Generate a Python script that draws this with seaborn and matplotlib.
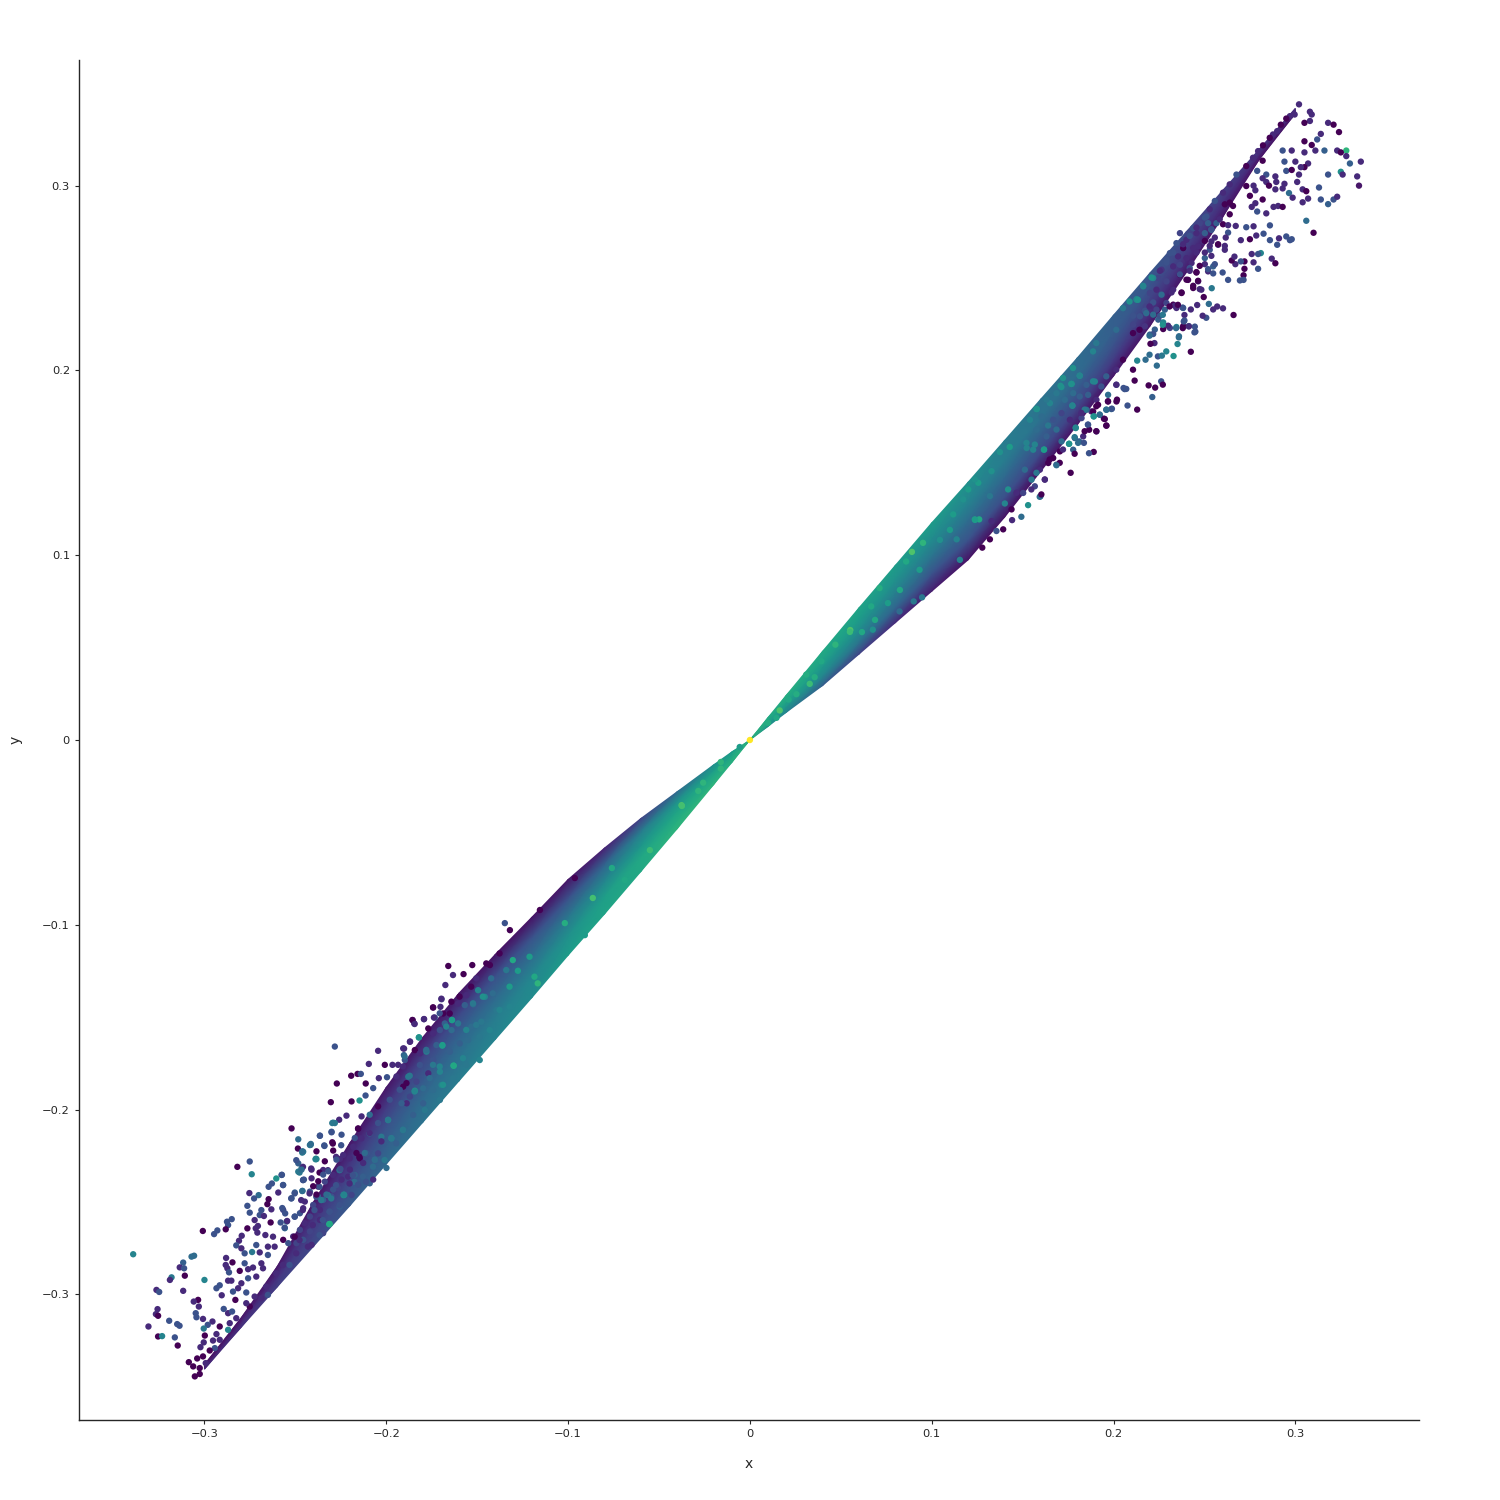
import numpy as np
import pandas as pd
import matplotlib.pyplot as plt
import seaborn as sns

# points: (x, y, colour value)
upper_points = [
    (.302,.344,.12),(.308,.340,.12),(.309,.3385,.12),(.318,.334,.12),(.321,.333,0),(.324,.329,0),(.314,.328,.12),(.308,.335,.12),
    (.305,.334,0),(.305,.324,0),(.309,.322,0),(.312,.325,.25),(.328,.319,.65),(.323,.319,.12),(.325,.318,0),(.328,.316,.12),
    (.316,.319,.3),(.311,.319,.12),(.305,.318,.12),(.298,.319,.12),(.293,.319,.25),(.330,.312,.3),(.336,.313,.12),(.325,.3075,.5),
    (.326,.306,.12),(.334,.305,.12),(.335,.300,.06),(.318,.306,.25),(.313,.299,.25),(.307,.312,.12),(.305,.310,0),(.303,.310,.12),
    (.300,.313,.12),(.294,.313,.25),(.295,.308,.25),(.298,.3085,0),(.302,.306,.12),(.301,.302,.12),(.289,.305,.12),(.2895,.302,.12),
    (.279,.308,.25),(.282,.3135,0),(.284,.306,.25),(.282,.304,.12),(.284,.302,.12),(.2855,.300,0),(.294,.301,.12),(.293,.2985,.12),
    (.289,.298,.12),(.2965,.296,.35),(.304,.298,.12),(.306,.297,0),(.2985,.2935,.12),(.307,.293,.12),(.304,.291,.12),(.314,.2925,.25),
    (.318,.290,.3),(.321,.2925,.25),(.323,.294,.12),(.306,.281,.35),(.310,.2745,0),(.286,.2785,.25),(.277,.278,.12),(.273,.2775,.25),
    (.2825,.274,.25),(.2785,.273,.12),(.275,.271,0),(.270,.2705,.12),(.286,.2705,.25),(.291,.2715,.12),(.295,.2725,.25),(.298,.271,.25),
    (.297,.2705,.25),(.290,.268,.25),(.288,.2885,.12),(.2905,.289,.12),(.293,.2885,0),(.284,.285,.12),(.279,.286,.25),(.278,.2905,.12),
    (.276,.2885,.12),(.282,.2925,0),(.278,.2975,.12),(.275,.2945,0),(.273,.2998,0),(.277,.300,.12),(.287,.2605,.12),(.289,.258,0),
    (.281,.2635,.45),(.2795,.263,.25),(.276,.263,.12),(.2795,.255,.25),(.277,.2585,.12),(.272,.259,0),(.270,.259,.25),(.272,.255,0),
    (.2715,.2515,0),(.2715,.249,.25),(.2695,.2487,.25),(.263,.249,.25),(.260,.253,.25),(.267,.2575,.12),(.265,.2595,0),(.2665,.2616,.12),
    (.254,.2445,.4),(.2496,.2397,0),(.2524,.236,.35),(.257,.2346,.12),(.2602,.2336,.12),(.2548,.233,.12),(.266,.230,0),(.251,.2285,.25),
    (.249,.2296,.12),(.246,.2354,.12),(.2425,.233,.12),(.238,.234,.25),(.239,.230,.12),(.239,.227,.25),(.2447,.2237,.25),(.2414,.224,.25),
    (.2383,.224,0),(.2346,.2235,.45),(.245,.221,.25),(.236,.2185,.35),
    (.297,.3376,.12),(.2996,.3385,.12),(.295,.3363,0),(.292,.333,0),(.290,.3295,.12),(.2877,.3277,.12),(.2859,.3259,0),(.2822,.3218,0),
    (.2795,.3187,.12),(.2767,.3151,.12),(.273,.3106,0),(.2676,.306,.25),(.2639,.3007,.12),(.2602,.2962,.12),(.2557,.2917,.25),(.2529,.2872,.12),
    (.2502,.2827,.25),(.2456,.2773,.12),(.2419,.2728,.25),(.2383,.2683,.12),(.2328,.2638,.25),(.2291,.2584,.25),(.2255,.2539,.12),(.2209,.2503,.5),
    (.2163,.2458,.45),(.2127,.2386,.45),
    (.2639,.2908,0),(.2657,.289,0),(.2612,.2899,0),(.2584,.2818,.12),(.2639,.2845,0),(.2602,.2791,0),(.263,.2786,.12),(.2672,.2782,.12),
    (.2538,.2764,.25),(.2557,.2719,.12),(.2502,.2701,0),(.2529,.2674,.12),(.2575,.2683,0),(.2612,.2674,.12),(.263,.2746,.25),(.2617,.2719,.12),
    (.2456,.2638,.12),(.2502,.2638,.12),(.2538,.262,.12),(.2557,.2575,.25),(.2502,.2575,.12),(.2474,.2566,0),(.2520,.2548,.25),(.2456,.253,0),
    (.2419,.2539,.12),(.2548,.2525,.25),(.2465,.2485,0),(.2438,.2458,0),(.2474,.244,.12),(.2410,.249,0),(.2365,.252,.25),(.2374,.2422,0),
    (.2319,.2422,.12),(.2337,.235,.12),(.2273,.226,.45),(.2255,.2296,.25),(.2218,.2368,.25),(.2172,.2323,.25),(.2108,.2296,.25),(.2136,.2215,.12),
    (.2218,.2197,.25),(.2273,.2224,0),(.2300,.2242,.12),
    (.2425,.2101,0),(.2330,.2078,.5),(.2359,.2179,.35),(.2352,.2143,.45),(.2290,.2103,.45),(.2244,.2076,.25),(.2266,.2080,.4),(.2238,.2026,.35),
    (.2198,.2085,.35),(.2176,.2058,.35),(.2130,.2053,.45),(.2445,.2206,.25),(.2386,.2265,.25),(.2344,.2229,.35),(.2381,.2229,0),(.2414,.2238,.12),
    (.2271,.2247,.5),(.2198,.2188,.35),(.2225,.2148,.12),(.2203,.2144,0),(.2262,.1941,.25),(.2271,.1923,0),(.2229,.1907,0),(.2193,.1919,0),
    (.2213,.1856,.3),(.2130,.1788,0),(.2077,.1810,.25),(.2070,.1900,.25),(.2055,.1905,.25),(.2116,.1945,0),(.2015,.1923,.12),(.2019,.1842,0),
    (.1969,.1833,0),(.1991,.1793,.25),(.1960,.1788,.35),(.1947,.1739,0),(.1960,.1702,0),(.1924,.1761,.35),(.1891,.1752,.5),(.1905,.1671,0),
    (.1859,.1707,.25),(.1841,.1671,0),(.1792,.1691,.45),(.1755,.1603,.5),(.1805,.1608,.35),(.1837,.1608,.25),(.1786,.1639,.4),(.1891,.1559,0),
    (.1865,.1552,.25),(.1786,.1549,0),(.1764,.1446,0),(.1704,.1500,0),(.1686,.1487,.35),(.1594,.1316,.35),(.1603,.1329,0),(.1530,.1271,.5),
    (.1493,.1208,.35),(.1442,.1190,.12),(.1356,.1131,.25),(.1393,.1140,0),(.1320,.1086,0),(.1278,.1041,0),(.1622,.1410,.12),(.1548,.1356,.12),
    (.1375,.1558,.5),(.1429,.1586,.55),(.1576,.1792,.5),(.1777,.2013,.5),(.1722,.1959,.5),(.1768,.1927,.5),(.1814,.1972,.45),(.1887,.2103,.45),
    (.1905,.2148,.4),(.1713,.1910,.5),(.1773,.1810,.45),(.1618,.1572,.55),(.1567,.1599,.45),(.1640,.1702,.4),(.1261,.1194,.6),(.1201,.1356,.55),
    (.1256,.1392,.55),(.1237,.1410,.5),(.1329,.1455,.5),(.1420,.1356,.5),(.1402,.1280,.45),(.1118,.1221,.55),(.1137,.1086,.45),(.1237,.1194,.55),
    (.1173,.1302,.5),(.1320,.1320,.4),(.1521,.1608,.45),(.1493,.1671,.4),(.1631,.1842,.4),(.1686,.1680,.35),(.1841,.1788,.4),(.1887,.1941,.45),
    (.2015,.2220,.35),(.2088,.2373,.5),(.2134,.2382,.5),(.2052,.2337,.4),(.2180,.2310,.35),(.2271,.2301,.4),(.2198,.2346,.12),(.2308,.2346,0),
    (.2354,.2355,0),(.2107,.2202,0),(.2143,.2220,0),(.2052,.2058,0),(.2015,.2004,.12),(.2107,.2004,0),(.1960,.1968,.3),(.1905,.1806,0),
    (.1823,.1770,.12),(.1722,.1572,.12),(.1649,.1518,0),(.1576,.1446,.4),(.1466,.1338,.12),(.1439,.1248,0),(.1329,.1185,.12),
    (.0164,.0160,.72),(.0146,.0120,.6),(.0213,.0219,.6),(.0256,.0248,.62),(.0329,.0304,.68),(.0310,.0354,.62),(.0356,.0340,.62),(.0393,.0426,.6),
    (.0470,.0516,.65),(.0552,.0595,.72),(.0616,.0584,.6),(.0676,.0597,.5),(.0713,.0822,.62),(.0667,.0723,.6),(.0759,.0741,.55),(.0933,.0921,.55),
    (.0859,.0966,.6),(.0823,.0696,.35),(.0901,.0750,.4),(.0947,.0772,.4),(.0100,.0093,.62),
    (.0891,.1018,.72),(.0550,.0585,.68),(.0952,.1067,.65),(.0688,.0650,.6),(.0825,.0812,.6),(.1045,.1083,.5),(.1155,.0975,.45),(.1238,.1191,.55),(.1100,.1137,.55),
]

upper_fringe_points = [
    (.2365,.2743,.2),(.2401,.2707,.12),(.2438,.2662,.12),(.2383,.2662,0),(.2346,.2689,.25),(.2310,.2635,.25),(.2355,.2617,.12),(.2401,.2608,.12),
    (.2429,.2581,.12),(.2456,.2532,0),(.2365,.2572,.2),(.2328,.2563,.12),(.2291,.2599,.25),(.2264,.2545,.15),(.2365,.2518,0),(.2401,.2491,0),
    (.2438,.2446,0),(.2465,.2482,.12),(.2483,.2437,.12),(.2374,.2419,0),(.2328,.2437,.12),(.2291,.2482,.2),(.2246,.25,.2),(.2218,.25,.45),
    (.2163,.2455,.45),(.2127,.2383,.5),(.2200,.2419,.2),(.2236,.2437,.12),(.2264,.2410,.35),(.2291,.2365,.2),(.2328,.2356,0),(.2346,.2338,.12),
    (.2383,.2338,.3),(.2282,.2329,.3),(.2273,.2248,.5),(.2236,.2329,.2),(.2218,.2302,.35),(.2182,.2347,.2),(.2145,.2293,.25),(.2108,.2248,.2),
    (.2172,.2239,.15),(.2246,.2275,.3),(.2227,.2221,.3),(.2200,.2194,.3),(.2310,.2230,.2),(.2529,.2653,.25),(.2502,.2608,.3),(.2548,.2563,.3),
    (.2465,.2671,.12),(.2538,.2698,.12),(.2493,.2698,.12),(.2575,.2680,.12),(.2612,.2653,.12),(.2419,.2554,.25),(.2520,.2536,.12),(.2502,.2743,.3),
    (.2538,.2761,.3),(.2456,.2743,.12),(.2474,.2797,.2),(.2520,.2797,.3),(.2566,.2797,.3),(.2511,.2833,.25),(.2438,.2770,.25),
    (.1577,.1791,.55),(.1769,.1927,.55),(.1708,.1917,.5),(.1814,.1971,.5),(.1650,.1823,.45),(.1774,.1809,.5),(.1897,.1940,.45),(.1860,.1868,.3),
    (.1732,.1841,.35),(.1814,.1859,.3),(.1906,.1841,.12),(.1915,.1814,0),(.1878,.1778,.12),(.1851,.1787,.35),(.1891,.1751,.55),(.1924,.1760,.35),
    (.1888,.1778,0),(.1824,.1742,.2),(.1792,.1688,.5),(.1760,.1733,.12),(.1714,.1769,.2),(.1668,.1733,.25),(.1860,.1706,.3),(.1866,.1679,0),
    (.1906,.1670,.12),(.1833,.1643,.12),(.1787,.1634,.3),(.1811,.1616,.3),(.1756,.1603,.5),(.1714,.1616,.35),(.1778,.1571,.3),(.1705,.1562,0),
    (.1668,.1526,0),(.1617,.1571,.55),(.1558,.1571,.45),(.1522,.1580,.45),(.1631,.1643,.3),(.1577,.1679,.35),(.1512,.1670,.4),(.1686,.1490,.25),
    (.1641,.1499,0),(.1595,.1463,.12),(.1549,.1409,.4),(.1512,.1463,.35),(.1622,.1409,.12),(.1567,.1373,.2),(.1598,.1319,.35),(.1503,.1337,.2),
    (.1970,.1832,0),(.2016,.1832,0),(.1961,.1787,.35),(.1988,.1791,.35),(.1952,.1737,0),(.1961,.1701,0),(.1970,.1868,.35),(.1933,.1913,.25),
    (.2016,.1922,.25),(.2061,.1899,.25),(.1851,.1922,.3),(.1778,.1877,.35),(.1686,.1877,.4),(.1604,.1751,.35),(.1540,.1733,.45),
]

lower_points = [
    (-.3392,-.2783,.45),(-.2819,-.231,0),(-.2751,-.2281,.25),(-.274,-.235,.45),(-.2605,-.2373,.5),(-.2574,-.2353,.25),(-.2629,-.24,.25),(-.2647,-.2418,.25),
    (-.2568,-.2409,.25),(-.2594,-.2449,.12),(-.2753,-.2452,.12),(-.2702,-.2463,.35),(-.2727,-.2481,.25),(-.2647,-.2485,0),(-.2654,-.2512,0),(-.2764,-.2521,.25),
    (-.2632,-.2540,.12),(-.2687,-.2544,.25),(-.2751,-.2558,.25),(-.2696,-.2571,.25),(-.2673,-.2576,.12),(-.2572,-.2533,.25),(-.2556,-.2562,.25),(-.2504,-.258,.25),
    (-.285,-.2593,.25),(-.2876,-.2607,.25),(-.2870,-.2625,.25),(-.2724,-.2598,.12),(-.2636,-.2611,0),(-.2706,-.2630,.12),(-.2581,-.2611,.25),(-.2545,-.2603,.12),
    (-.2559,-.2639,.25),(-.3009,-.2657,0),(-.2929,-.2654,.25),(-.2947,-.2674,.25),(-.2883,-.2648,0),(-.2764,-.2643,0),(-.2718,-.2643,.12),(-.2709,-.2666,.12),
    (-.2665,-.2679,.12),(-.2623,-.2688,.12),(-.2795,-.2683,.12),(-.2810,-.2710,.12),(-.2825,-.2735,.25),(-.2651,-.2742,.12),(-.2614,-.2742,.12),(-.2715,-.2733,.25),
    (-.2797,-.2751,.12),(-.2779,-.2778,.25),(-.2738,-.2771,.4),(-.2696,-.2773,.12),(-.2651,-.2787,.25),(-.3057,-.2791,.35),(-.3071,-.2796,.35),(-.3117,-.2828,.3),
    (-.3136,-.2854,.12),(-.3112,-.2859,.25),(-.2881,-.2803,.12),(-.2846,-.2827,0),(-.2883,-.2841,.12),(-.2874,-.2859,.12),(-.2779,-.2832,.25),(-.2733,-.2855,.12),
    (-.2806,-.2873,0),(-.2865,-.2881,.25),(-.2760,-.2864,.12),(-.2687,-.2832,.12),(-.2678,-.2859,.12),(-.3108,-.2899,0),(-.3181,-.2908,.4),(-.3190,-.2922,.12),
    (-.3000,-.2922,.45),(-.2715,-.2904,.12),(-.2760,-.2913,.25),(-.2870,-.2926,.12),(-.2852,-.2926,.12),(-.2916,-.2951,.25),(-.2934,-.2967,.25),(-.2797,-.2940,.12),
    (-.2815,-.2967,.12),(-.2843,-.2985,.25),(-.3264,-.2976,.12),(-.3249,-.2987,.25),(-.3117,-.2981,.12),(-.2905,-.3005,.12),(-.2770,-.2990,.25),(-.3035,-.3030,0),
    (-.3059,-.3039,.12),(-.2830,-.3030,0),(-.3031,-.3066,.12),(-.2894,-.3079,.25),(-.3258,-.3080,.12),(-.3267,-.3107,.12),(-.3255,-.3116,0),(-.3048,-.3102,.25),
    (-.3044,-.3124,.25),(-.2870,-.3102,.12),(-.2848,-.3093,.25),(-.3194,-.3143,.25),(-.3150,-.3161,.25),(-.3137,-.3170,.25),(-.3308,-.3174,.12),(-.3008,-.3133,.12),
    (-.2956,-.3147,.12),(-.2982,-.3165,.25),(-.3004,-.3185,.4),(-.3255,-.3228,0),(-.3233,-.3226,.45),(-.3163,-.3233,.25),(-.3147,-.3277,0),(-.2998,-.3223,0),
    (-.2870,-.3192,.45),(-.2916,-.3174,0),(-.2861,-.3156,.12),(-.2825,-.3129,.12),(-.2934,-.3215,.12),(-.2953,-.3250,.12),(-.3004,-.3260,.12),(-.3022,-.3286,.12),
    (-.2916,-.3246,.12),(-.2943,-.3291,.25),(-.2971,-.3304,0),(-.3008,-.3336,0),(-.3040,-.3347,0),(-.3086,-.3367,0),(-.3062,-.3390,0),(-.3026,-.3431,0),
    (-.3053,-.3444,0),(-.3026,-.3399,0),(-.2993,-.3372,.12),
    (-.2751,-.3066,0),(-.2770,-.3048,.12),(-.2724,-.3012,.12),(-.2687,-.3021,.12),(-.2660,-.2958,.12),(-.2651,-.3003,.25),(-.2605,-.2886,.12),(-.2568,-.2841,.12),
    (-.2532,-.2841,.25),(-.2495,-.2778,.12),(-.2431,-.2742,.12),(-.2477,-.2706,.12),(-.2504,-.2688,0),(-.2367,-.2679,.25),(-.2404,-.2625,.12),(-.2314,-.2620,.6),
    (-.2349,-.2598,.25),(-.2395,-.2544,.25),(-.2459,-.2544,.12),(-.2468,-.2490,.12),(-.2385,-.2472,.25),(-.2358,-.2490,.4),(-.2303,-.2481,.4),(-.2235,-.2463,.5),
    (-.2257,-.2517,.25),(-.2312,-.2553,.25),(-.2462,-.2441,.35),(-.2504,-.2454,.25),(-.2523,-.2481,.25),(-.2422,-.2454,.12),(-.2367,-.2418,.25),(-.2321,-.2463,.4),
    (-.2276,-.2409,.25),(-.2175,-.2391,.35),(-.2184,-.2355,.25),(-.2111,-.2391,.25),(-.2202,-.2400,.12),(-.2257,-.2328,.35),(-.2321,-.2328,.12),(-.2367,-.2341,0),
    (-.2413,-.2319,.12),(-.2458,-.2382,.25),(-.2477,-.2341,.4),(-.2458,-.2310,.12),(-.2495,-.2274,.25),(-.2462,-.2233,.4),(-.2486,-.2211,0),(-.2389,-.2269,.45),
    (-.2416,-.2191,.4),(-.2340,-.2197,.25),(-.2294,-.2184,0),(-.2248,-.2193,.25),(-.2276,-.2256,.12),(-.2148,-.2256,0),(-.2111,-.2238,.25),
    (-.2283,-.1659,.25),(-.2045,-.1682,.12),(-.1659,-.1223,0),(-.1527,-.1218,0),(-.1633,-.1272,.12),(-.1575,-.1267,0),(-.1675,-.1326,.12),(-.1697,-.1400,.12),
    (-.1743,-.1447,0),(-.1706,-.1479,.25),(-.1738,-.1502,.12),(-.1792,-.1510,.12),(-.1856,-.1515,0),(-.1844,-.1537,.12),(-.1820,-.1609,.5),(-.1869,-.1632,.12),
    (-.1902,-.1670,.12),(-.2096,-.1753,.12),(-.2008,-.1758,0),(-.1966,-.1758,.12),(-.1935,-.1758,.12),(-.2158,-.1807,0),(-.2193,-.1817,0),(-.2140,-.1807,.25),
    (-.2272,-.1859,0),(-.2113,-.1859,0),(-.2041,-.1830,.12),(-.1996,-.1825,.25),(-.2072,-.1884,.25),(-.2114,-.1924,.25),(-.2147,-.1951,.5),(-.2191,-.1956,0),
    (-.2305,-.1960,0),(-.2219,-.2033,.12),(-.2259,-.2055,.12),(-.2297,-.2073,.4),(-.2283,-.2073,.4),(-.2301,-.2123,.25),(-.2365,-.2141,.25),(-.2246,-.2136,.25),
    (-.2173,-.2154,.25),(-.2415,-.2186,.35),(-.2341,-.2194,.25),(-.2297,-.2177,0),(-.2384,-.2226,0),(-.2292,-.2222,0),(-.2387,-.2266,.45),(-.2338,-.2280,0),
    (-.2255,-.2267,.12),(-.2274,-.2271,.25),(-.2462,-.2226,.35),(-.2466,-.2325,.35),(-.2411,-.2325,.12),(-.2319,-.2334,.25),(-.2347,-.2352,.25),(-.2252,-.2321,.25),
    (-.2453,-.2379,.25),(-.2374,-.2388,0),(-.2402,-.2415,0),(-.2246,-.2379,.12),(-.2292,-.2433,.25),(-.2233,-.2460,.45),(-.2329,-.2460,.35),(-.2384,-.2460,0),
    (-.1899,-.1713,.35),(-.1871,-.1817,.4),(-.1844,-.1902,.45),(-.1908,-.1767,.12),(-.1889,-.1857,0),(-.1944,-.1821,.12),(-.1981,-.1947,.25),(-.1926,-.1893,.25),
    (-.1990,-.2055,.4),(-.2091,-.2028,.35),(-.2045,-.1983,0),(-.2136,-.2037,.12),(-.2155,-.2104,0),(-.2091,-.2127,.12),(-.2045,-.2073,.25),(-.1972,-.2154,.4),
    (-.1908,-.2109,.4),(-.2027,-.2172,.12),(-.2118,-.2235,.35),(-.2164,-.2235,0),(-.2063,-.2271,.35),(-.2127,-.2289,.12),(-.2200,-.2325,.12),(-.2155,-.2406,.25),
    (-.2072,-.2379,.12),(-.1999,-.2316,.35),
    (-.1692,-.1654,.55),(-.1630,-.1762,.6),(-.1639,-.1515,.55),(-.1688,-.1866,.5),(-.1743,-.1758,.4),(-.1761,-.1830,.35),(-.1670,-.1551,.45),(-.1780,-.1677,.35),
    (-.1706,-.1767,.45),(-.1560,-.1569,.45),(-.1505,-.1542,.4),(-.1578,-.1722,.45),(-.1469,-.1389,.5),(-.1523,-.1425,.4),(-.1414,-.1371,.35),(-.1322,-.1335,.55),
    (-.1377,-.1461,.45),(-.1304,-.1191,.6),(-.1276,-.1249,.55),(-.1212,-.1173,.55),(-.1167,-.1317,.65),(-.1185,-.1281,.6),(-.1340,-.1245,.4),(-.1423,-.1290,.35),
    (-.1450,-.1209,0),(-.1377,-.1155,0),(-.1505,-.1290,.12),(-.1533,-.1335,0),(-.1597,-.1389,0),(-.1642,-.1416,0),
    (-.0160,-.0155,.65),(-.0160,-.0119,.65),(-.0257,-.0231,.65),(-.0284,-.0276,.65),(-.0376,-.0353,.72),(-.0056,-.0038,.55),
    (-.0864,-.0855,.7),(-.1018,-.0991,.62),(-.0550,-.0596,.68),(-.0374,-.0357,.7),(-.0759,-.0693,.6),(-.0908,-.1056,.55),(-.0688,-.0758,.6),
    (-.1348,-.0991,.25),(-.132,-.1029,0),(-.1155,-.092,0),(-.0963,-.0747,0),(-.143,-.1218,0),
]

lower_fringe_points = [
    (-.1821,-.1610,.55),(-.1638,-.1516,.5),(-.1696,-.1403,.2),(-.1742,-.1448,0),(-.1702,-.1444,.12),(-.1733,-.1502,.25),(-.1793,-.1511,.15),(-.1855,-.1516,.12),
    (-.1846,-.1534,.12),(-.1870,-.1633,.12),(-.1907,-.1669,.12),(-.1903,-.1705,.3),(-.1898,-.1732,.25),(-.1843,-.1678,0),(-.1815,-.1696,.12),(-.1779,-.1687,.4),
    (-.1691,-.1651,.55),(-.1629,-.1763,.6),(-.1742,-.1588,.12),(-.1769,-.1561,0),(-.1705,-.1570,.25),(-.1678,-.1534,.3),(-.1651,-.1480,0),(-.1687,-.1480,0),
    (-.1605,-.1426,.12),(-.1559,-.1381,.12),(-.1495,-.1354,.45),(-.1458,-.1390,.45),(-.1568,-.1435,.3),(-.1522,-.1430,.35),(-.1605,-.1534,.4),(-.1641,-.1570,.35),
    (-.1532,-.1552,.35),(-.1477,-.1525,.4),(-.1394,-.1462,.4),(-.1321,-.1444,.45),(-.1431,-.1570,.45),(-.1486,-.1606,.4),(-.1550,-.1624,.35),(-.1596,-.1642,.3),
    (-.1651,-.1687,.3),(-.1724,-.1651,.3),(-.1742,-.1732,.25),(-.1705,-.1795,.45),(-.1632,-.1831,.4),(-.1559,-.1759,.4),(-.1486,-.1732,.45),(-.1769,-.1804,.12),
    (-.1815,-.1759,.25),(-.1879,-.1822,.4),(-.1907,-.1876,0),(-.1834,-.1849,.2),(-.1843,-.1898,.5),(-.1797,-.1885,.35),(-.1696,-.1867,.45),(-.1742,-.1894,.35),
    (-.1870,-.1930,.2),(-.1797,-.1966,.3),(-.1888,-.1966,.12),(-.1705,-.1948,.4),(-.1916,-.1966,.3),(-.1852,-.2029,.3),(-.1788,-.2002,.4),
    (-.2311,-.2619,.62),(-.2232,-.2462,.5),(-.2384,-.2268,.45),(-.1972,-.2156,.45),(-.2027,-.2147,.4),(-.1990,-.2057,.45),(-.1945,-.2183,.3),(-.1908,-.2111,.4),
    (-.2091,-.2129,.35),(-.2155,-.2102,0),(-.2137,-.2156,.12),(-.2182,-.2201,.12),(-.2109,-.2237,.3),(-.2045,-.2237,.2),(-.2063,-.2273,.35),(-.2009,-.2273,.4),
    (-.2146,-.2264,0),(-.2237,-.2246,.12),(-.2256,-.2327,.25),(-.2201,-.2264,.12),(-.2173,-.2354,.3),(-.2128,-.2363,.3),(-.2073,-.2309,.35),(-.2091,-.2399,.3),
    (-.2210,-.2363,.12),(-.2292,-.2354,.12),(-.2347,-.2327,.12),(-.2411,-.2372,.12),(-.2375,-.2417,.12),(-.2338,-.2390,.2),(-.2457,-.2381,.3),(-.2484,-.2336,.4),
    (-.2466,-.2318,.4),(-.2420,-.2444,.25),(-.2375,-.2471,.3),(-.2301,-.2471,.25),(-.2347,-.2489,.3),(-.2265,-.2426,.2),(-.2191,-.2462,.2),(-.2256,-.2525,.3),
    (-.2311,-.2552,.25),(-.2365,-.2543,.12),(-.2402,-.2516,.2),(-.2448,-.2498,.12),(-.2457,-.2534,.12),(-.2475,-.2561,.25),(-.2420,-.2579,.2),(-.2365,-.2597,.12),
    (-.2448,-.2615,.12),(-.2347,-.2669,.2),(-.2420,-.2660,.2),(-.2475,-.2651,.2),(-.2512,-.2687,.12),(-.2457,-.2705,.25),(-.2411,-.2732,.12),(-.2494,-.2723,.2),
    (-.2567,-.2705,0),(-.2539,-.2723,.25),(-.2503,-.2579,.25),(-.2567,-.2543,.2),(-.2521,-.2480,.3),(-.2503,-.2449,.3),(-.2461,-.2440,.35),(-.2567,-.2408,.3),
    (-.2576,-.2354,.3),(-.2548,-.2606,.35),(-.2558,-.2642,.4),(-.2484,-.2291,.3),(-.2457,-.2228,.4),(-.2420,-.2192,.35),(-.2365,-.2142,.3),(-.2301,-.2120,.3),
    (-.2484,-.2161,.35),(-.2521,-.2102,0),(-.2292,-.2071,.4),
]

# the spot at the centre
centre_point = [(0.0, 0.0, 1.0)]

# solid part of the band, read at these x positions
upper_band_x = [0, .01, .02, .04, .06, .08, .10, .12, .14, .16, .18, .20, .22, .24, .26, .28, .30]
upper_band_top = [0, .0122, .0242, .048, .0715, .0945, .1175, .1395, .162, .1845, .2067, .2299, .2527, .275, .2973, .3195, .3418]
upper_band_low = [0, .0074, .015, .0295, .0465, .0635, .0805, .0975, .1205, .1455, .1705, .197, .224, .253, .283, .314, .339]
upper_band_c = [
    [.65, .65, .65, .65, .65], [.6, .6, .58, .55, .5], [.62, .6, .56, .5, .45], [.6, .58, .52, .45, .3],
    [.58, .55, .48, .38, .2], [.55, .5, .42, .32, .12], [.55, .48, .38, .25, .08], [.5, .45, .35, .25, .05],
    [.42, .42, .33, .24, .05], [.38, .38, .3, .22, .05], [.35, .35, .27, .2, .06], [.3, .3, .25, .17, .06],
    [.27, .26, .2, .14, .06], [.22, .2, .17, .12, .06], [.18, .17, .14, .1, .06], [.15, .14, .12, .08, .06],
    [.12, .12, .1, .07, .05],
]

lower_band_x = [0, -.01, -.02, -.04, -.06, -.08, -.10, -.12, -.14, -.16, -.18, -.20, -.22, -.24, -.26, -.28, -.30]
lower_band_edge = [0, -.0122, -.0242, -.048, -.0712, -.0942, -.1165, -.1395, -.162, -.1845, -.207, -.2295, -.252, -.274, -.296, -.318, -.3405]
lower_band_inner = [0, -.0065, -.0135, -.028, -.0425, -.0585, -.0755, -.096, -.116, -.137, -.161, -.188, -.218, -.25, -.285, -.313, -.338]
lower_band_c = [
    [.65, .65, .65, .65, .65], [.62, .62, .6, .58, .55], [.65, .62, .6, .55, .5], [.65, .62, .58, .5, .35],
    [.6, .6, .52, .42, .2], [.58, .56, .46, .32, .1], [.55, .5, .4, .25, .06], [.48, .46, .36, .25, .05],
    [.45, .42, .34, .24, .05], [.42, .38, .32, .22, .06], [.38, .35, .28, .2, .06], [.34, .3, .25, .17, .06],
    [.28, .26, .2, .14, .06], [.22, .2, .17, .12, .06], [.18, .17, .14, .1, .06], [.14, .13, .11, .08, .06],
    [.12, .1, .08, .06, .04],
]

tick_values = [-.3, -.2, -.1, 0, .1, .2, .3]
tick_labels = ["\u22120.3", "\u22120.2", "\u22120.1", "0", "0.1", "0.2", "0.3"]


def draw_band(ax, xs, first, second, colours):
    fractions = np.linspace(0, 1, 5)
    xs = np.array(xs)
    first = np.array(first)
    second = np.array(second)
    X = np.repeat(xs[:, None], 5, axis=1)
    Y = first[:, None] + (second - first)[:, None] * fractions
    ax.pcolormesh(X, Y, np.array(colours), shading="gouraud", cmap="viridis", vmin=0, vmax=1)


sns.set_theme(style="ticks")

fig = plt.figure(figsize=(15, 15), dpi=100)
ax = fig.add_axes([79 / 1500, 80 / 1500, 1340 / 1500, 1360 / 1500])

draw_band(ax, upper_band_x, upper_band_top, upper_band_low, upper_band_c)
draw_band(ax, lower_band_x, lower_band_edge, lower_band_inner, lower_band_c)

all_points = upper_fringe_points + lower_fringe_points + upper_points + lower_points + centre_point
points = pd.DataFrame(all_points, columns=["x", "y", "c"])
sns.scatterplot(data=points, x="x", y="y", hue="c", palette="viridis", hue_norm=(0, 1),
                s=21, linewidth=0, legend=False, ax=ax)

ax.set_xlim(-.369, .368)
ax.set_ylim(-.368, .368)
ax.set_xticks(tick_values)
ax.set_xticklabels(tick_labels)
ax.set_yticks(tick_values)
ax.set_yticklabels(tick_labels)
ax.tick_params(labelsize=8.25, length=3, width=0.8, color="#262626", labelcolor="#262626")
ax.set_xlabel("x", fontsize=10, color="#262626", labelpad=13)
ax.set_ylabel("y", fontsize=10, color="#262626", labelpad=14)
for side in ["left", "bottom"]:
    ax.spines[side].set_color("#262626")
    ax.spines[side].set_linewidth(1)
sns.despine(ax=ax)

plt.savefig("out.png", dpi=100)
